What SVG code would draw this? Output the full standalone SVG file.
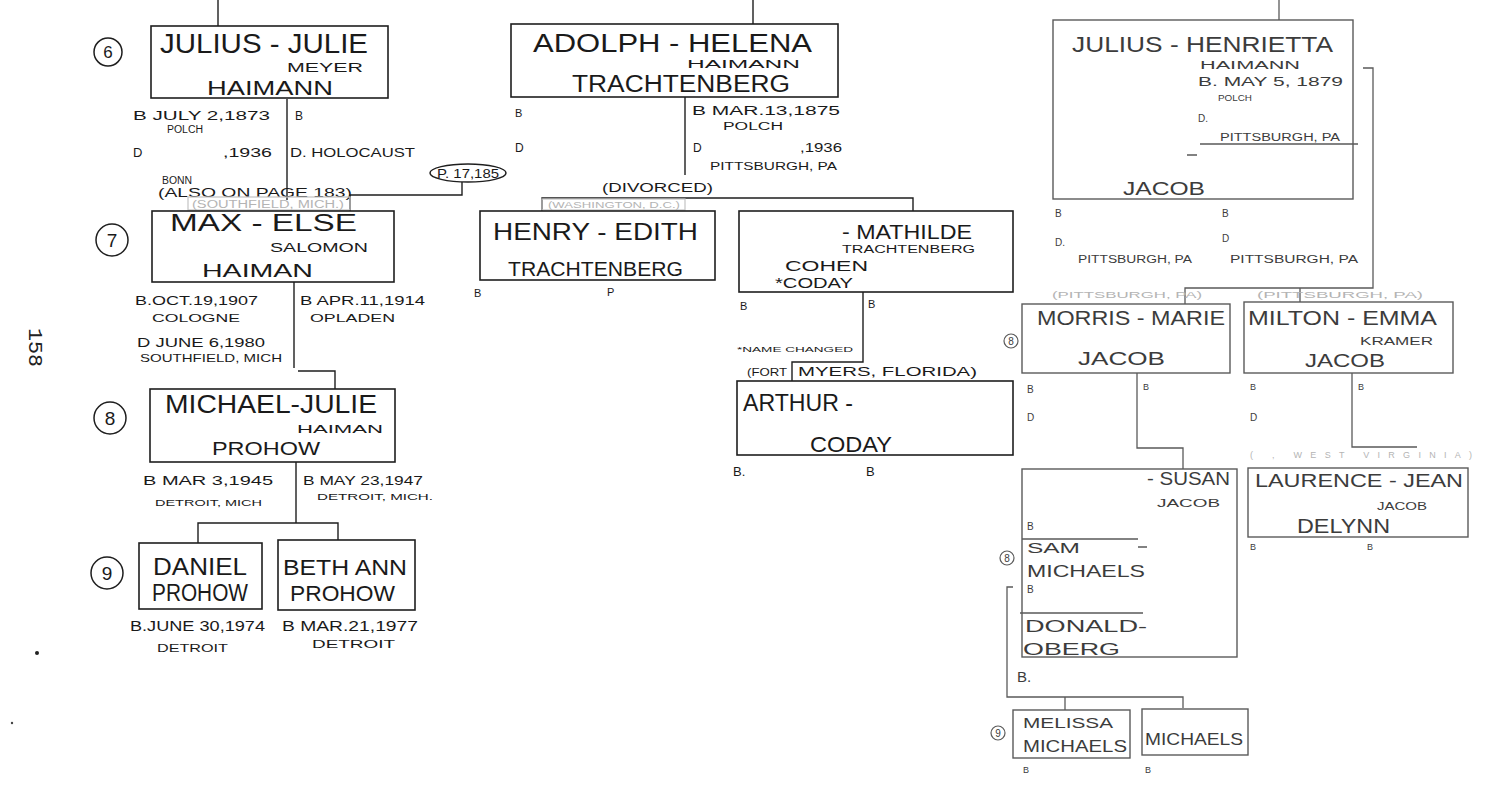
<svg xmlns="http://www.w3.org/2000/svg" width="1490" height="787" viewBox="0 0 1490 787">
<style>
.bg{fill:#ffffff}
.box{fill:none;stroke:#1e1e1e;stroke-width:1.6}
.boxr{fill:none;stroke:#5a5a5a;stroke-width:1.4}
.ln{fill:none;stroke:#1e1e1e;stroke-width:1.4}
.lnr{fill:none;stroke:#5a5a5a;stroke-width:1.3}
.fb{fill:none;stroke:#c4c4c4;stroke-width:1.2}
text{font-family:"Liberation Sans",Arial,sans-serif;fill:#1a1a1a}
.r{fill:#3c3c3c}
.f{fill:#b4b4b4}
.pg{font-family:"Liberation Mono","DejaVu Sans Mono",monospace;fill:#222}
.c{text-anchor:middle}
.circ{fill:none;stroke:#1e1e1e;stroke-width:1.5}
.circr{fill:none;stroke:#5a5a5a;stroke-width:1.2}
</style>
<rect class="bg" x="0" y="0" width="1490" height="787"/>

<g id="connectors">
  <path class="ln" d="M218,0 V26"/>
  <path class="ln" d="M287,99 V200"/>
  <path class="ln" d="M462,182 V195 H350 V211"/>
  <path class="ln" d="M294,282 V368"/>
  <path class="ln" d="M298,371 H335 V389"/>
  <path class="ln" d="M296,462 V523"/>
  <path class="ln" d="M198,543 V523 H338 V540"/>
  <path class="ln" d="M753,0 V24"/>
  <path class="ln" d="M685,97 V175"/>
  <path class="ln" d="M542,211 V198 H913 V211"/>
  <path class="ln" d="M863,292 V362 H792 V381"/>
  <path class="lnr" d="M1279,0 V20"/>
  <path class="lnr" d="M1363,68 H1373 V288 H1185 V304"/>
  <path class="lnr" d="M1300,288 V302"/>
  <path class="lnr" d="M1137,373 V448 H1183 V469"/>
  <path class="lnr" d="M1352,373 V447 H1417"/>
  <path class="lnr" d="M1013,587 H1007 V697 H1183 V708"/>
  <path class="lnr" d="M1065,697 V710"/>
</g>

<g id="page-number">
  <text class="pg" font-size="20" textLength="39" lengthAdjust="spacingAndGlyphs" transform="translate(29,328) rotate(90)">158</text>
  <circle cx="37" cy="653" r="2" fill="#222"/>
  <circle cx="12" cy="723" r="1.2" fill="#444"/>
</g>

<g id="gen-markers">
  <circle class="circ" cx="108" cy="52" r="14"/><text class="c" x="108" y="58" font-size="17">6</text>
  <circle class="circ" cx="112" cy="240" r="16"/><text class="c" x="112" y="247" font-size="19">7</text>
  <circle class="circ" cx="110" cy="418" r="16"/><text class="c" x="110" y="425" font-size="19">8</text>
  <circle class="circ" cx="107" cy="573" r="16"/><text class="c" x="107" y="580" font-size="19">9</text>
  <circle class="circr" cx="1011" cy="341" r="7"/><text class="c r" x="1011" y="345" font-size="10">8</text>
  <circle class="circr" cx="1007" cy="558" r="7"/><text class="c r" x="1007" y="562" font-size="10">8</text>
  <circle class="circr" cx="998" cy="733" r="7"/><text class="c r" x="998" y="737" font-size="10">9</text>
</g>

<g id="julius-julie">
  <rect class="box" x="151" y="26" width="237" height="72"/>
  <text x="160" y="53" font-size="27" textLength="208" lengthAdjust="spacingAndGlyphs">JULIUS - JULIE</text>
  <text x="287" y="72" font-size="13" textLength="76" lengthAdjust="spacingAndGlyphs">MEYER</text>
  <text x="207" y="95" font-size="21" textLength="126" lengthAdjust="spacingAndGlyphs">HAIMANN</text>
  <text x="133" y="120" font-size="13" textLength="137" lengthAdjust="spacingAndGlyphs">B JULY 2,1873</text>
  <text x="167" y="133" font-size="10" textLength="36" lengthAdjust="spacingAndGlyphs">POLCH</text>
  <text x="133" y="157" font-size="13">D</text>
  <text x="223" y="157" font-size="13" textLength="49" lengthAdjust="spacingAndGlyphs">,1936</text>
  <text x="162" y="184" font-size="11" textLength="30" lengthAdjust="spacingAndGlyphs">BONN</text>
  <text x="158" y="197" font-size="13" textLength="194" lengthAdjust="spacingAndGlyphs">(ALSO ON PAGE 183)</text>
  <text x="295" y="120" font-size="12">B</text>
  <text x="290" y="157" font-size="12" textLength="125" lengthAdjust="spacingAndGlyphs">D. HOLOCAUST</text>
  <ellipse class="circ" cx="468" cy="173" rx="38" ry="9"/>
  <text class="c" x="468" y="178" font-size="13" textLength="62" lengthAdjust="spacingAndGlyphs">P. 17,185</text>
</g>

<g id="max-else">
  <rect class="fb" x="188" y="197" width="162" height="13"/>
  <text class="f" x="192" y="208" font-size="10" textLength="152" lengthAdjust="spacingAndGlyphs">(SOUTHFIELD, MICH.)</text>
  <rect class="box" x="152" y="211" width="242" height="71"/>
  <text x="170" y="231" font-size="23" textLength="187" lengthAdjust="spacingAndGlyphs">MAX - ELSE</text>
  <text x="270" y="252" font-size="13" textLength="98" lengthAdjust="spacingAndGlyphs">SALOMON</text>
  <text x="202" y="277" font-size="19" textLength="111" lengthAdjust="spacingAndGlyphs">HAIMAN</text>
  <text x="135" y="305" font-size="13" textLength="123" lengthAdjust="spacingAndGlyphs">B.OCT.19,1907</text>
  <text x="152" y="322" font-size="11" textLength="88" lengthAdjust="spacingAndGlyphs">COLOGNE</text>
  <text x="137" y="347" font-size="13" textLength="128" lengthAdjust="spacingAndGlyphs">D JUNE 6,1980</text>
  <text x="140" y="362" font-size="11" textLength="142" lengthAdjust="spacingAndGlyphs">SOUTHFIELD, MICH</text>
  <text x="300" y="305" font-size="13" textLength="125" lengthAdjust="spacingAndGlyphs">B APR.11,1914</text>
  <text x="310" y="322" font-size="11" textLength="85" lengthAdjust="spacingAndGlyphs">OPLADEN</text>
</g>

<g id="michael-julie">
  <rect class="box" x="150" y="389" width="245" height="73"/>
  <text x="165" y="413" font-size="25" textLength="212" lengthAdjust="spacingAndGlyphs">MICHAEL-JULIE</text>
  <text x="297" y="433" font-size="11" textLength="86" lengthAdjust="spacingAndGlyphs">HAIMAN</text>
  <text x="212" y="455" font-size="18" textLength="108" lengthAdjust="spacingAndGlyphs">PROHOW</text>
  <text x="143" y="485" font-size="13" textLength="130" lengthAdjust="spacingAndGlyphs">B MAR 3,1945</text>
  <text x="155" y="506" font-size="9" textLength="107" lengthAdjust="spacingAndGlyphs">DETROIT, MICH</text>
  <text x="303" y="485" font-size="13" textLength="120" lengthAdjust="spacingAndGlyphs">B MAY 23,1947</text>
  <text x="317" y="500" font-size="9" textLength="116" lengthAdjust="spacingAndGlyphs">DETROIT, MICH.</text>
</g>

<g id="daniel">
  <rect class="box" x="139" y="543" width="123" height="66"/>
  <text x="153" y="575" font-size="23" textLength="94" lengthAdjust="spacingAndGlyphs">DANIEL</text>
  <text x="152" y="601" font-size="23" textLength="96" lengthAdjust="spacingAndGlyphs">PROHOW</text>
  <text x="130" y="631" font-size="14" textLength="135" lengthAdjust="spacingAndGlyphs">B.JUNE 30,1974</text>
  <text x="157" y="652" font-size="11" textLength="71" lengthAdjust="spacingAndGlyphs">DETROIT</text>
</g>

<g id="beth-ann">
  <rect class="box" x="278" y="540" width="137" height="70"/>
  <text x="283" y="575" font-size="22" textLength="124" lengthAdjust="spacingAndGlyphs">BETH ANN</text>
  <text x="290" y="601" font-size="22" textLength="105" lengthAdjust="spacingAndGlyphs">PROHOW</text>
  <text x="282" y="631" font-size="14" textLength="136" lengthAdjust="spacingAndGlyphs">B MAR.21,1977</text>
  <text x="312" y="648" font-size="11" textLength="83" lengthAdjust="spacingAndGlyphs">DETROIT</text>
</g>

<g id="adolph-helena">
  <rect class="box" x="511" y="24" width="327" height="73"/>
  <text x="533" y="52" font-size="26" textLength="279" lengthAdjust="spacingAndGlyphs">ADOLPH - HELENA</text>
  <text x="687" y="68" font-size="10" textLength="113" lengthAdjust="spacingAndGlyphs">HAIMANN</text>
  <text x="572" y="92" font-size="23" textLength="218" lengthAdjust="spacingAndGlyphs">TRACHTENBERG</text>
  <text x="515" y="117" font-size="11">B</text>
  <text x="515" y="152" font-size="12">D</text>
  <text x="692" y="115" font-size="12" textLength="148" lengthAdjust="spacingAndGlyphs">B MAR.13,1875</text>
  <text x="723" y="130" font-size="10" textLength="60" lengthAdjust="spacingAndGlyphs">POLCH</text>
  <text x="693" y="152" font-size="12">D</text>
  <text x="800" y="152" font-size="12" textLength="42" lengthAdjust="spacingAndGlyphs">,1936</text>
  <text x="710" y="170" font-size="11" textLength="127" lengthAdjust="spacingAndGlyphs">PITTSBURGH, PA</text>
  <text x="602" y="192" font-size="12" textLength="111" lengthAdjust="spacingAndGlyphs">(DIVORCED)</text>
</g>

<g id="henry-edith">
  <rect class="fb" x="542" y="199" width="143" height="11"/>
  <text class="f" x="548" y="208" font-size="9" textLength="132" lengthAdjust="spacingAndGlyphs">(WASHINGTON, D.C.)</text>
  <rect class="box" x="480" y="211" width="235" height="69"/>
  <text x="493" y="240" font-size="24" textLength="205" lengthAdjust="spacingAndGlyphs">HENRY - EDITH</text>
  <text x="508" y="276" font-size="20" textLength="175" lengthAdjust="spacingAndGlyphs">TRACHTENBERG</text>
  <text x="474" y="297" font-size="11">B</text>
  <text x="607" y="296" font-size="11">P</text>
</g>

<g id="mathilde">
  <rect class="box" x="739" y="211" width="274" height="81"/>
  <text x="842" y="239" font-size="20" textLength="130" lengthAdjust="spacingAndGlyphs">- MATHILDE</text>
  <text x="842" y="253" font-size="10" textLength="133" lengthAdjust="spacingAndGlyphs">TRACHTENBERG</text>
  <text x="785" y="271" font-size="15" textLength="83" lengthAdjust="spacingAndGlyphs">COHEN</text>
  <text x="775" y="288" font-size="14" textLength="78" lengthAdjust="spacingAndGlyphs">*CODAY</text>
  <text x="740" y="310" font-size="11">B</text>
  <text x="868" y="308" font-size="11">B</text>
  <text x="737" y="352" font-size="8" textLength="116" lengthAdjust="spacingAndGlyphs">*NAME CHANGED</text>
  <text x="747" y="376" font-size="11" textLength="40" lengthAdjust="spacingAndGlyphs">(FORT</text>
  <text x="798" y="376" font-size="13" textLength="179" lengthAdjust="spacingAndGlyphs">MYERS, FLORIDA)</text>
</g>

<g id="arthur">
  <rect class="box" x="737" y="381" width="276" height="74"/>
  <text x="743" y="411" font-size="24" textLength="110" lengthAdjust="spacingAndGlyphs">ARTHUR -</text>
  <text x="810" y="452" font-size="22" textLength="82" lengthAdjust="spacingAndGlyphs">CODAY</text>
  <text x="733" y="476" font-size="13">B.</text>
  <text x="866" y="476" font-size="13">B</text>
</g>

<g id="julius-henrietta">
  <rect class="boxr" x="1053" y="20" width="300" height="179"/>
  <text class="r" x="1072" y="52" font-size="22" textLength="261" lengthAdjust="spacingAndGlyphs">JULIUS - HENRIETTA</text>
  <text class="r" x="1200" y="69" font-size="10" textLength="100" lengthAdjust="spacingAndGlyphs">HAIMANN</text>
  <text class="r" x="1198" y="86" font-size="13" textLength="145" lengthAdjust="spacingAndGlyphs">B. MAY 5, 1879</text>
  <text class="r" x="1218" y="101" font-size="9" textLength="34" lengthAdjust="spacingAndGlyphs">POLCH</text>
  <text class="r" x="1198" y="122" font-size="10">D.</text>
  <text class="r" x="1220" y="141" font-size="10" textLength="120" lengthAdjust="spacingAndGlyphs">PITTSBURGH, PA</text>
  <path class="lnr" d="M1200,144 H1358 M1187,155 H1197"/>
  <text class="r" x="1123" y="195" font-size="19" textLength="82" lengthAdjust="spacingAndGlyphs">JACOB</text>
  <text class="r" x="1055" y="217" font-size="10">B</text>
  <text class="r" x="1222" y="217" font-size="10">B</text>
  <text class="r" x="1055" y="246" font-size="10">D.</text>
  <text class="r" x="1222" y="242" font-size="10">D</text>
  <text class="r" x="1078" y="263" font-size="10" textLength="114" lengthAdjust="spacingAndGlyphs">PITTSBURGH, PA</text>
  <text class="r" x="1230" y="263" font-size="10" textLength="128" lengthAdjust="spacingAndGlyphs">PITTSBURGH, PA</text>
</g>

<g id="morris-marie">
  <text class="f" x="1052" y="298" font-size="9" textLength="150" lengthAdjust="spacingAndGlyphs">(PITTSBURGH, PA)</text>
  <rect class="boxr" x="1022" y="304" width="208" height="69"/>
  <text class="r" x="1037" y="325" font-size="20" textLength="188" lengthAdjust="spacingAndGlyphs">MORRIS - MARIE</text>
  <text class="r" x="1078" y="365" font-size="18" textLength="87" lengthAdjust="spacingAndGlyphs">JACOB</text>
  <text class="r" x="1027" y="393" font-size="10">B</text>
  <text class="r" x="1027" y="421" font-size="10">D</text>
  <text class="r" x="1143" y="390" font-size="9">B</text>
</g>

<g id="milton-emma">
  <text class="f" x="1257" y="298" font-size="9" textLength="166" lengthAdjust="spacingAndGlyphs">(PITTSBURGH, PA)</text>
  <rect class="boxr" x="1244" y="302" width="209" height="71"/>
  <text class="r" x="1248" y="325" font-size="20" textLength="189" lengthAdjust="spacingAndGlyphs">MILTON - EMMA</text>
  <text class="r" x="1360" y="345" font-size="10" textLength="73" lengthAdjust="spacingAndGlyphs">KRAMER</text>
  <text class="r" x="1305" y="367" font-size="18" textLength="80" lengthAdjust="spacingAndGlyphs">JACOB</text>
  <text class="r" x="1250" y="390" font-size="9">B</text>
  <text class="r" x="1250" y="421" font-size="10">D</text>
  <text class="r" x="1358" y="390" font-size="9">B</text>
</g>

<g id="laurence-jean">
  <text class="f" x="1250" y="458" font-size="9" textLength="222" lengthAdjust="spacing">(          , WEST VIRGINIA)</text>
  <rect class="boxr" x="1248" y="468" width="220" height="69"/>
  <text class="r" x="1255" y="487" font-size="19" textLength="208" lengthAdjust="spacingAndGlyphs">LAURENCE - JEAN</text>
  <text class="r" x="1377" y="510" font-size="11" textLength="50" lengthAdjust="spacingAndGlyphs">JACOB</text>
  <text class="r" x="1297" y="533" font-size="21" textLength="93" lengthAdjust="spacingAndGlyphs">DELYNN</text>
  <text class="r" x="1250" y="550" font-size="9">B</text>
  <text class="r" x="1367" y="550" font-size="9">B</text>
</g>

<g id="susan">
  <rect class="boxr" x="1022" y="469" width="215" height="188"/>
  <text class="r" x="1147" y="485" font-size="18" textLength="83" lengthAdjust="spacingAndGlyphs">- SUSAN</text>
  <text class="r" x="1157" y="507" font-size="11" textLength="63" lengthAdjust="spacingAndGlyphs">JACOB</text>
  <text class="r" x="1027" y="530" font-size="10">B</text>
  <path class="lnr" d="M1022,539 H1138 M1138,547 H1147 M1020,613 H1143"/>
  <text class="r" x="1027" y="553" font-size="15" textLength="53" lengthAdjust="spacingAndGlyphs">SAM</text>
  <text class="r" x="1027" y="577" font-size="17" textLength="118" lengthAdjust="spacingAndGlyphs">MICHAELS</text>
  <text class="r" x="1027" y="593" font-size="10">B</text>
  <text class="r" x="1025" y="632" font-size="17" textLength="122" lengthAdjust="spacingAndGlyphs">DONALD-</text>
  <text class="r" x="1023" y="655" font-size="17" textLength="97" lengthAdjust="spacingAndGlyphs">OBERG</text>
  <text class="r" x="1017" y="682" font-size="15">B.</text>
</g>

<g id="melissa">
  <rect class="boxr" x="1013" y="710" width="117" height="48"/>
  <text class="r" x="1023" y="728" font-size="15" textLength="90" lengthAdjust="spacingAndGlyphs">MELISSA</text>
  <text class="r" x="1023" y="752" font-size="16" textLength="104" lengthAdjust="spacingAndGlyphs">MICHAELS</text>
  <text class="r" x="1023" y="773" font-size="9">B</text>
</g>

<g id="michaels-child">
  <rect class="boxr" x="1142" y="709" width="106" height="46"/>
  <text class="r" x="1145" y="745" font-size="17" textLength="98" lengthAdjust="spacingAndGlyphs">MICHAELS</text>
  <text class="r" x="1145" y="773" font-size="9">B</text>
</g>
</svg>
